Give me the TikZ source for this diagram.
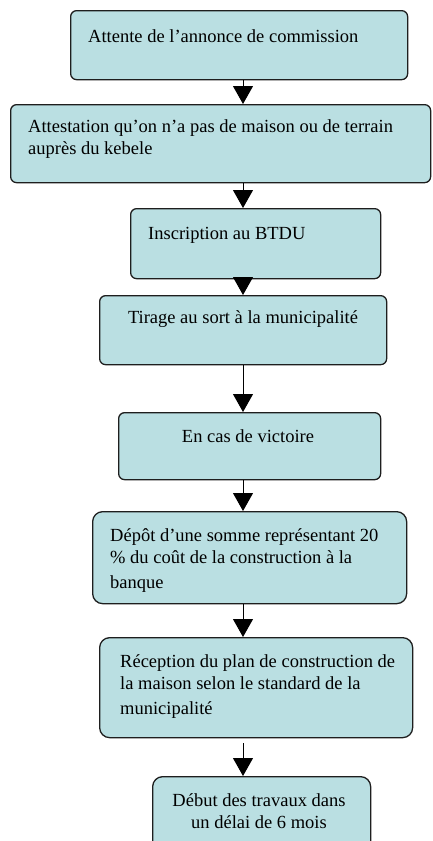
\documentclass[tikz,border=0pt]{standalone}
\usepackage{fontspec}
\setmainfont{Liberation Serif}
\usetikzlibrary{arrows.meta}
\definecolor{boxfill}{HTML}{BADFE2}
\definecolor{boxline}{HTML}{1E1E1E}
\tikzset{
  stepbox/.style={draw=boxline, line width=1.3pt, fill=boxfill, rounded corners=6pt,
    inner sep=0pt, anchor=north west},
  softbox/.style={stepbox, rounded corners=10pt},
  size/.style 2 args={minimum width=#1pt, minimum height=#2pt},
  label/.style={inner sep=0pt, font=\fontsize{18.5}{22}\selectfont, align=left},
  flow/.style={draw=black, line width=1pt, -{Triangle[width=20pt,length=18pt]}},
}
\begin{document}
\begin{tikzpicture}[x=1pt, y=-1pt]
  \clip (0,0) rectangle (432,841);
  \fill[white] (0,0) rectangle (432,841);

  % step boxes, placed by their top left corner
  \node[stepbox, size={337}{69}]  (b1) at (70,10) {};
  \node[stepbox, size={420}{78}]  (b2) at (10,104) {};
  \node[stepbox, size={250}{70}]  (b3) at (130,208) {};
  \node[stepbox, size={287}{69}]  (b4) at (99,295) {};
  \node[stepbox, size={262}{67}]  (b5) at (118,412) {};
  \node[softbox, size={314}{92}]  (b6) at (92,511) {};
  \node[softbox, size={313}{100}] (b7) at (99,637) {};
  \node[softbox, size={218}{84}]  (b8) at (152,776) {};

  % box texts (multi-line texts are placed by their last baseline)
  \node[label, anchor=base west] (t1) at (88,42) {Attente de l’annonce de commission};
  \node[label, anchor=base west] (t2) at (28,154) {Attestation qu’on n’a pas de maison ou de terrain\\auprès du kebele};
  \node[label, anchor=base west] (t3) at (148,239) {Inscription au BTDU};
  \node[label, anchor=base] (t4) at (243,323) {Tirage au sort à la municipalité};
  \node[label, anchor=base] (t5) at (248,442) {En cas de victoire};
  \node[label, anchor=base west] (t6) at (110,588) {Dépôt d’une somme représentant 20\\\% du coût de la construction à la\\[3pt]banque};
  \node[label, anchor=base west] (t7) at (120,714) {Réception du plan de construction de\\la maison selon le standard de la\\[3pt]municipalité};
  \node[label, anchor=base, align=center] (t8) at (259,828) {Début des travaux dans\\un délai de 6 mois};

  % connectors, all on one vertical line
  \coordinate (axis) at (243,0);
  \draw[flow] (b1.south -| axis) -- (b2.north -| axis);
  \draw[flow] (b2.south -| axis) -- (b3.north -| axis);
  \draw[flow] (b3.south -| axis) -- (b4.north -| axis);
  \draw[flow] (b4.south -| axis) -- (b5.north -| axis);
  \draw[flow] (b5.south -| axis) -- (b6.north -| axis);
  \draw[flow] (b6.south -| axis) -- (b7.north -| axis);
  \draw[flow, shorten <=5pt] (b7.south -| axis) -- (b8.north -| axis);
\end{tikzpicture}
\end{document}
